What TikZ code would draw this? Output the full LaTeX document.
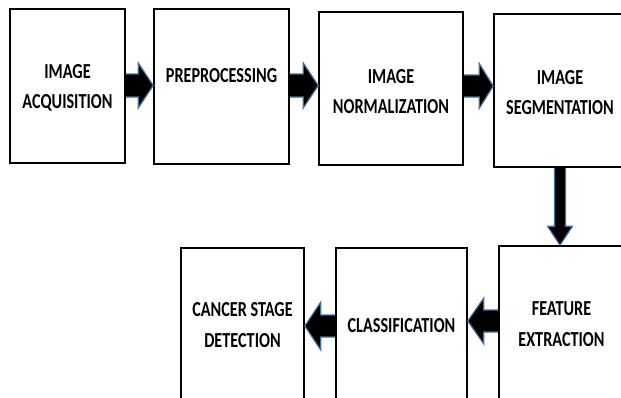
\documentclass[tikz,border=0pt]{standalone}
\usepackage{fontspec}
\setmainfont{Carlito}
\usetikzlibrary{calc}
\definecolor{arrowline}{RGB}{65,113,156}
\newcommand{\boxtext}[2][0pt]{\raisebox{-#1}[\height][\depth]{\scalebox{1}[1.32]{\fontsize{16.2}{23}\selectfont\bfseries\begin{tabular}{@{}c@{}}#2\end{tabular}}}}
% #1 base, #2 tip, #3 head length (signed), #4 shaft half width, #5 head half width
\newcommand{\hblock}[5]{\draw[blk] ($(#1)+(0,#4)$) -- ($(#2)+(#3,#4)$) -- ($(#2)+(#3,#5)$) -- (#2) -- ($(#2)+(#3,-#5)$) -- ($(#2)+(#3,-#4)$) -- ($(#1)+(0,-#4)$);}
\begin{document}
\begin{tikzpicture}[x=1pt,y=-1pt,
  box/.style={draw=black, line width=1.6pt, fill=white, rectangle, inner sep=0pt},
  blk/.style={draw=arrowline, fill=black, line width=1.2pt, line join=miter}]
\useasboundingbox (0,0) rectangle (621,397);
\clip (0,0) rectangle (621,397);
\fill[white] (0,0) rectangle (621,397);
% top row
\node[box, minimum width=115pt, minimum height=154pt] (b1) at (67.5,86) {\boxtext[1.5pt]{IMAGE\\ACQUISITION}};
\node[box, minimum width=135pt, minimum height=155pt,
      label={[yshift=10.5pt]center:\boxtext{PREPROCESSING}}] (b2) at (221.5,86.5) {};
\node[box, minimum width=144pt, minimum height=153pt] (b3) at (391,88.5) {\boxtext[4pt]{IMAGE\\NORMALIZATION}};
\node[box, minimum width=132pt, minimum height=153pt] (b4) at (560,90.5) {\boxtext[3pt]{IMAGE\\SEGMENTATION}};
% bottom row
\node[box, minimum width=125pt, minimum height=156pt] (b5) at (561.5,324) {\boxtext[1pt]{FEATURE\\EXTRACTION}};
\node[box, minimum width=131pt, minimum height=156pt] (b6) at (401.5,326) {\boxtext{CLASSIFICATION}};
\node[box, minimum width=123pt, minimum height=156pt] (b7) at (242.5,326) {\boxtext{CANCER STAGE\\DETECTION}};
% arrow coordinates
\coordinate (a1s) at ($(b1.east)+(0,-0.5)$);
\coordinate (a1t) at (b2.west |- a1s);
\coordinate (a2s) at ($(b2.east)+(0,-1)$);
\coordinate (a2t) at (b3.west |- a2s);
\coordinate (a3s) at ($(b3.east)+(0,-2.5)$);
\coordinate (a3t) at (b4.west |- a3s);
\coordinate (a5s) at ($(b5.west)+(0,-3)$);
\coordinate (a5t) at (b6.east |- a5s);
\coordinate (a6s) at (b6.west);
\coordinate (a6t) at (b7.east |- a6s);
\coordinate (vt) at (b4.south |- b5.north);
% arrows
\hblock{a1s}{a1t}{-15}{11.5}{22.5}
\hblock{a2s}{a2t}{-15}{11.5}{22.5}
\hblock{a3s}{a3t}{-14}{11}{22.5}
\hblock{a5s}{a5t}{16}{11}{23}
\hblock{a6s}{a6t}{16}{11}{24}
\draw[blk] ($(b4.south)+(-5.5,0)$) -- ($(vt)+(-5.5,-19)$) -- ($(vt)+(-12.5,-19)$) -- (vt)
  -- ($(vt)+(12.5,-19)$) -- ($(vt)+(5.5,-19)$) -- ($(b4.south)+(5.5,0)$);
\end{tikzpicture}
\end{document}
